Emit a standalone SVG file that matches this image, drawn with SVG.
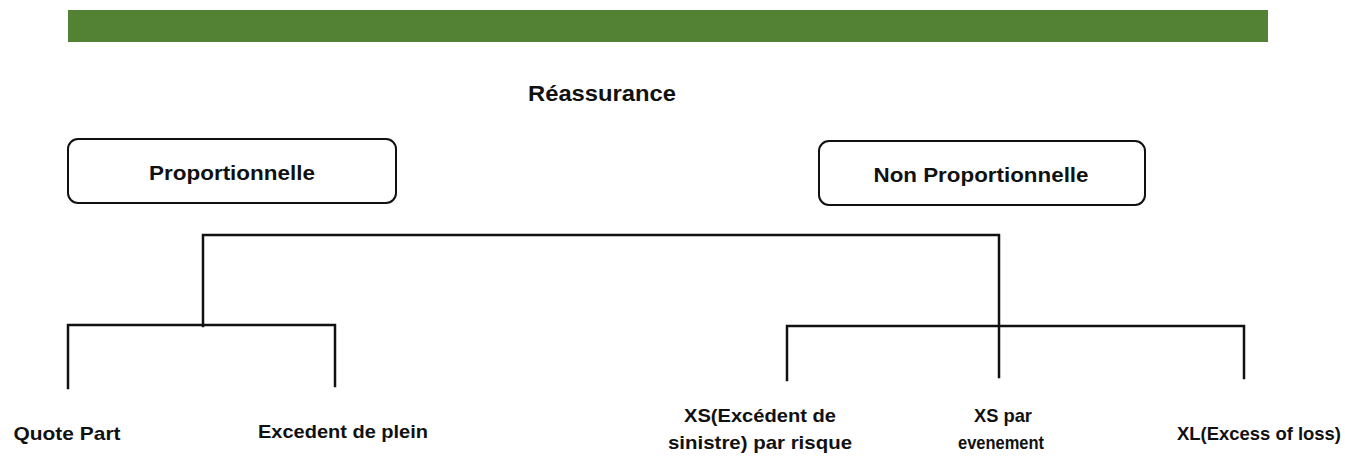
<svg xmlns="http://www.w3.org/2000/svg" width="1345" height="456" viewBox="0 0 1345 456">
<style>
.t{font-family:"Liberation Sans",Arial,sans-serif;font-weight:bold;fill:#111;text-anchor:middle}
.box{fill:#fff;stroke:#111;stroke-width:2}
.ln{fill:none;stroke:#111;stroke-width:2.5;stroke-linecap:square}
</style>
<rect x="0" y="0" width="1345" height="456" fill="#fff"/>
<g id="banner"><rect x="68" y="10" width="1200" height="32" fill="#548235"/></g>
<g id="root"><text class="t" x="602" y="101" font-size="22" textLength="148" lengthAdjust="spacingAndGlyphs">Réassurance</text></g>
<g id="proportionnelle">
<rect class="box" x="68" y="139" width="328" height="64" rx="10"/>
<text class="t" x="232" y="180" font-size="21" textLength="166" lengthAdjust="spacingAndGlyphs">Proportionnelle</text>
</g>
<g id="non-proportionnelle">
<rect class="box" x="819" y="141" width="326" height="64" rx="10"/>
<text class="t" x="981" y="182" font-size="21" textLength="215" lengthAdjust="spacingAndGlyphs">Non Proportionnelle</text>
</g>
<g id="connectors">
<path class="ln" d="M203 326 V235 H999 V377"/>
<path class="ln" d="M68 388 V325 H335 V386"/>
<path class="ln" d="M787 380 V326 H1244 V378"/>
</g>
<g id="quote-part"><text class="t" x="67" y="440" font-size="19" textLength="107" lengthAdjust="spacingAndGlyphs">Quote Part</text></g>
<g id="excedent-plein"><text class="t" x="343" y="438" font-size="19" textLength="170" lengthAdjust="spacingAndGlyphs">Excedent de plein</text></g>
<g id="xs-risque">
<text class="t" x="760" y="422" font-size="19" textLength="152" lengthAdjust="spacingAndGlyphs">XS(Excédent de</text>
<text class="t" x="760" y="449" font-size="19" textLength="184" lengthAdjust="spacingAndGlyphs">sinistre) par risque</text>
</g>
<g id="xs-evenement">
<text class="t" x="1003" y="422" font-size="19" textLength="58" lengthAdjust="spacingAndGlyphs">XS par</text>
<text class="t" x="1001" y="449" font-size="19" textLength="86" lengthAdjust="spacingAndGlyphs">evenement</text>
</g>
<g id="xl"><text class="t" x="1259" y="440" font-size="19" textLength="164" lengthAdjust="spacingAndGlyphs">XL(Excess of loss)</text></g>
</svg>
